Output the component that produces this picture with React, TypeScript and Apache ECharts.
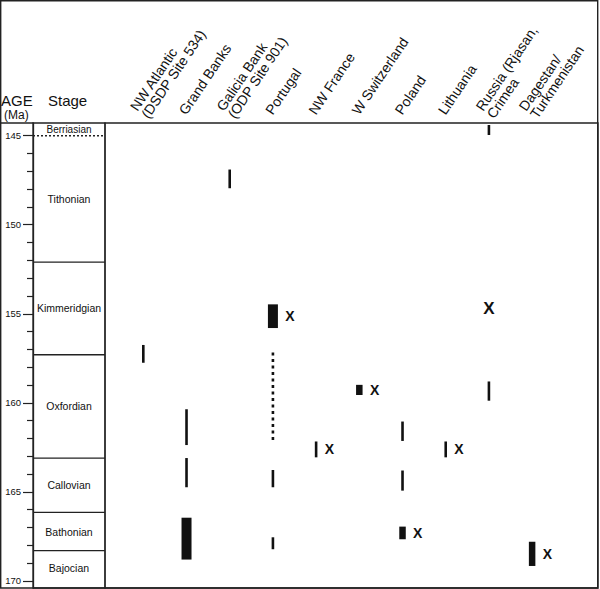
import React, { useEffect, useRef } from "react";
import * as echarts from "echarts";

const FONT = '"Liberation Sans", Arial, Helvetica, sans-serif';
const INK = "#111";

// Localities (columns)
const columns = [
  "NW Atlantic\n(DSDP Site 534)",
  "Grand Banks",
  "Galicia Bank\n(ODP Site 901)",
  "Portugal",
  "NW France",
  "W Switzerland",
  "Poland",
  "Lithuania",
  "Russia (Rjasan,\nCrimea",
  "Dagestan/\nTurkmenistan",
];

// Age axis (Ma)
const majorAges = [145, 150, 155, 160, 165, 170];
const minorAges = [
  146, 147, 148, 149, 151, 152, 153, 154, 156, 157, 158, 159, 161, 162, 163, 164,
  166, 167, 168, 169,
];
const AGE_MIN = 144.287;
const AGE_MAX = 170.397;

// Stages: name, top age, base age
const stageNames = ["Berriasian", "Tithonian", "Kimmeridgian", "Oxfordian", "Callovian", "Bathonian", "Bajocian"];
const stageTops = [139.4, 145.0, 152.1, 157.3, 163.1, 166.15, 168.3];
const stageBases = [145.0, 152.1, 157.3, 163.1, 166.15, 168.3, 170.3];
const dashedBoundaries = [145.0];

// Occurrence ranges: [column index, top age, base age, X mark (1) or not (0)]
const thinRanges = [
  [0, 156.75, 157.75, 0],
  [1, 160.36, 162.37, 0],
  [1, 163.1, 164.74, 0],
  [2, 146.9, 147.95, 0],
  [3, 163.77, 164.74, 0],
  [3, 167.55, 168.22, 0],
  [4, 162.17, 163.06, 1],
  [6, 161.05, 162.14, 0],
  [6, 163.8, 164.93, 0],
  [7, 162.17, 163.06, 1],
  [8, 158.8, 159.88, 0],
  [8, 144.4, 144.96, 0],
];
const mediumRanges = [
  [5, 158.99, 159.56, 1],
  [6, 166.95, 167.66, 1],
  [9, 167.8, 169.16, 1],
];
const thickRanges = [
  [1, 166.45, 168.8, 0],
  [3, 154.47, 155.8, 1],
];
const dottedRanges = [[3, 157.18, 162.09]];
// Stand-alone X marks: [column index, age]
const soloMarks = [[8, 154.7]];

const LABEL_SHIFT = 0.1;

function rangeSeries(data: number[][], w: number) {
  return {
    type: "custom",
    xAxisIndex: 1,
    yAxisIndex: 2,
    data,
    encode: { x: 0, y: [1, 2] },
    renderItem: (_p: any, api: any) => {
      const p1 = api.coord([api.value(0), api.value(1)]);
      const p2 = api.coord([api.value(0), api.value(2)]);
      const children: any[] = [
        {
          type: "rect",
          shape: { x: p1[0] - w / 2, y: p1[1], width: w, height: p2[1] - p1[1] },
          style: { fill: INK },
        },
      ];
      if (api.value(3)) {
        children.push({
          type: "text",
          x: p1[0] + w / 2 + 12,
          y: (p1[1] + p2[1]) / 2,
          style: {
            text: "X",
            fill: INK,
            fontSize: 14,
            fontWeight: "bold",
            fontFamily: FONT,
            align: "center",
            verticalAlign: "middle",
          },
        });
      }
      return { type: "group", children };
    },
  };
}

export default function App() {
  const ref = useRef<HTMLDivElement>(null);
  useEffect(() => {
    if (!ref.current) return;
    const chart = echarts.init(ref.current, null, { renderer: "svg" });
    const stageData = stageNames.map((n, i) => [stageTops[i], stageBases[i], i]);
    const option: any = {
      animation: false,
      backgroundColor: "#fff",
      grid: [
        { left: 33, top: 123, width: 72, bottom: 1, show: true, borderColor: "#222", borderWidth: 1.3 },
        { left: 105, top: 123, right: 2, bottom: 1, show: true, borderColor: "#222", borderWidth: 1.3 },
      ],
      xAxis: [
        { gridIndex: 0, type: "value", min: 0, max: 1, show: false },
        {
          gridIndex: 1,
          type: "value",
          min: -0.887,
          max: 10.525,
          position: "top",
          axisLine: { show: false },
          axisTick: { show: false },
          splitLine: { show: false },
          axisLabel: {
            customValues: columns.map((_, i) => i - LABEL_SHIFT),
            formatter: (v: number) => columns[Math.round(v + LABEL_SHIFT)] || "",
            rotate: -56,
            margin: 10,
            fontSize: 14,
            lineHeight: 13.5,
            color: INK,
            fontFamily: FONT,
          },
        },
      ],
      yAxis: [
        {
          gridIndex: 0,
          type: "value",
          inverse: true,
          min: AGE_MIN,
          max: AGE_MAX,
          position: "left",
          axisLine: { show: true, lineStyle: { color: "#222", width: 1.3 } },
          axisTick: { show: true, length: 10, customValues: majorAges, lineStyle: { color: "#222", width: 1.2 } },
          axisLabel: { customValues: majorAges, margin: 12, fontSize: 9.5, color: INK, fontFamily: FONT },
          splitLine: { show: false },
        },
        {
          gridIndex: 0,
          type: "value",
          inverse: true,
          min: AGE_MIN,
          max: AGE_MAX,
          position: "left",
          axisLine: { show: false },
          axisTick: { show: true, length: 6, customValues: minorAges, lineStyle: { color: "#222", width: 1.2 } },
          axisLabel: { show: false },
          splitLine: { show: false },
        },
        { gridIndex: 1, type: "value", inverse: true, min: AGE_MIN, max: AGE_MAX, show: false, splitLine: { show: false } },
      ],
      series: [
        {
          type: "custom",
          xAxisIndex: 0,
          yAxisIndex: 0,
          data: stageData,
          encode: { y: [0, 1] },
          renderItem: (_p: any, api: any) => {
            const top = Math.max(api.value(0), AGE_MIN);
            const base = Math.min(api.value(1), AGE_MAX);
            const idx = api.value(2);
            const mid = api.coord([0.5, (top + base) / 2]);
            const l = api.coord([0, api.value(1)]);
            const r = api.coord([1, api.value(1)]);
            const children: any[] = [
              {
                type: "text",
                x: mid[0],
                y: mid[1],
                style: {
                  text: stageNames[idx],
                  fill: INK,
                  fontSize: idx === 0 ? 10 : 10.5,
                  fontFamily: FONT,
                  align: "center",
                  verticalAlign: "middle",
                },
              },
            ];
            if (idx < stageNames.length - 1) {
              const dashed = dashedBoundaries.includes(api.value(1));
              children.push({
                type: "line",
                shape: { x1: l[0], y1: l[1], x2: r[0], y2: r[1] },
                style: { stroke: "#222", lineWidth: dashed ? 1.4 : 1.3, lineDash: dashed ? [2, 2] : null },
              });
            }
            return { type: "group", children };
          },
        },
        rangeSeries(thinRanges, 2.6),
        rangeSeries(mediumRanges, 6.5),
        rangeSeries(thickRanges, 10),
        {
          type: "custom",
          xAxisIndex: 1,
          yAxisIndex: 2,
          data: dottedRanges,
          encode: { x: 0, y: [1, 2] },
          renderItem: (_p: any, api: any) => {
            const p1 = api.coord([api.value(0), api.value(1)]);
            const p2 = api.coord([api.value(0), api.value(2)]);
            return {
              type: "line",
              shape: { x1: p1[0], y1: p1[1], x2: p2[0], y2: p2[1] },
              style: { stroke: INK, lineWidth: 2.6, lineDash: [3, 3.5] },
            };
          },
        },
        {
          type: "custom",
          xAxisIndex: 1,
          yAxisIndex: 2,
          data: soloMarks,
          encode: { x: 0, y: 1 },
          renderItem: (_p: any, api: any) => {
            const p = api.coord([api.value(0), api.value(1)]);
            return {
              type: "text",
              x: p[0],
              y: p[1],
              style: {
                text: "X",
                fill: INK,
                fontSize: 17,
                fontWeight: "bold",
                fontFamily: FONT,
                align: "center",
                verticalAlign: "middle",
              },
            };
          },
        },
      ],
      graphic: [
        {
          type: "rect",
          silent: true,
          z: 100,
          shape: { x: 0.7, y: 0.7, width: 597, height: 587.3 },
          style: { fill: "none", stroke: "#222", lineWidth: 1.4 },
        },
        {
          type: "line",
          silent: true,
          z: 100,
          shape: { x1: 0, y1: 123, x2: 33, y2: 123 },
          style: { stroke: "#222", lineWidth: 1.3 },
        },
        {
          type: "text",
          x: 1,
          y: 100,
          style: { text: "AGE", fill: INK, fontSize: 15, fontFamily: FONT, align: "left", verticalAlign: "middle" },
        },
        {
          type: "text",
          x: 4,
          y: 115,
          style: { text: "(Ma)", fill: INK, fontSize: 12, fontFamily: FONT, align: "left", verticalAlign: "middle" },
        },
        {
          type: "text",
          x: 48,
          y: 100,
          style: { text: "Stage", fill: INK, fontSize: 15, fontFamily: FONT, align: "left", verticalAlign: "middle" },
        },
      ],
    };
    chart.setOption(option);
    return () => chart.dispose();
  }, []);
  return (
    <div
      ref={ref}
      style={{ position: "fixed", left: 0, top: 0, width: 600, height: 589, background: "#fff" }}
    />
  );
}
